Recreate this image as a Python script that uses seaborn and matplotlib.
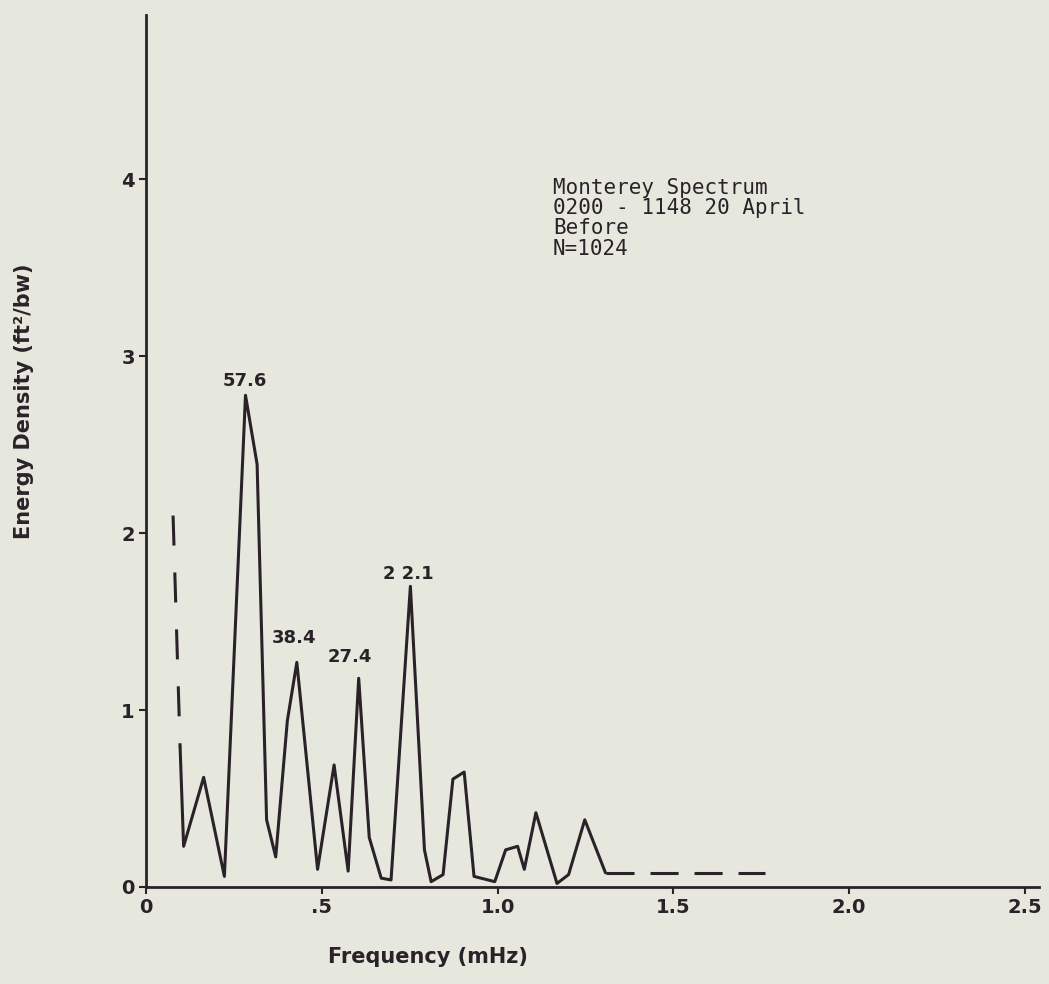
import matplotlib
matplotlib.use("Agg")
import matplotlib.pyplot as plt
import seaborn as sns
import pandas as pd

# ---- data ----
freq = [0.097, 0.107, 0.164, 0.223, 0.283, 0.316, 0.343, 0.369, 0.402, 0.429,
        0.488, 0.535, 0.575, 0.605, 0.635, 0.669, 0.697, 0.752, 0.792, 0.811,
        0.845, 0.873, 0.905, 0.933, 0.992, 1.023, 1.057, 1.076, 1.109, 1.169,
        1.202, 1.248, 1.307]
energy = [0.79, 0.23, 0.62, 0.06, 2.78, 2.39, 0.38, 0.17, 0.94, 1.27,
          0.10, 0.69, 0.09, 1.18, 0.28, 0.05, 0.04, 1.70, 0.21, 0.03,
          0.07, 0.61, 0.65, 0.06, 0.03, 0.21, 0.23, 0.10, 0.42, 0.02,
          0.07, 0.38, 0.08]
lead_freq = [0.077, 0.097]
lead_energy = [2.10, 0.79]
tail_freq = [1.307, 1.76]
tail_energy = [0.08, 0.08]

peak_labels = ["57.6", "38.4", "27.4", "2 2.1"]
peak_x = [0.281, 0.422, 0.58, 0.745]
peak_y = [2.83, 1.38, 1.27, 1.74]

xtick_vals = [0, 0.5, 1.0, 1.5, 2.0, 2.5]
xtick_labels = ["0", ".5", "1.0", "1.5", "2.0", "2.5"]
ytick_vals = [0, 1, 2, 3, 4]
ytick_labels = ["0", "1", "2", "3", "4"]

info_text = "Monterey Spectrum\n0200 - 1148 20 April\nBefore\nN=1024"

# ---- style ----
sns.set_theme(style="ticks")
bg = "#e6e8de"
ink = "#2a2228"
plt.rcParams["font.family"] = ["DejaVu Sans"]
plt.rcParams["lines.scale_dashes"] = False

fig = plt.figure(figsize=(10.49, 9.84), dpi=100, facecolor=bg)
ax = fig.add_axes([146 / 1049, 97 / 984, 893 / 1049, 872 / 984])
ax.set_facecolor(bg)

df = pd.DataFrame({"f": freq, "e": energy})
sns.lineplot(data=df, x="f", y="e", ax=ax, color=ink, lw=2.2,
             estimator=None, sort=False)
lead = pd.DataFrame({"f": lead_freq, "e": lead_energy})
sns.lineplot(data=lead, x="f", y="e", ax=ax, color=ink, lw=2.2,
             estimator=None, sort=False, dashes=False)
ax.lines[-1].set_dashes((21.6, 19.4))
tail = pd.DataFrame({"f": tail_freq, "e": tail_energy})
sns.lineplot(data=tail, x="f", y="e", ax=ax, color=ink, lw=2.2,
             estimator=None, sort=False, dashes=False)
ax.lines[-1].set_dashes((20.2, 11.5))

for lab, x, y in zip(peak_labels, peak_x, peak_y):
    ax.text(x, y, lab, ha="center", va="baseline", fontsize=13,
            fontweight="bold", color=ink)

ax.text(1.158, 4.01, info_text, ha="left", va="top", fontsize=15,
        family=["DejaVu Sans Mono"], color=ink, linespacing=1.02)

ax.set_xlim(0, 2.54)
ax.set_ylim(0, 4.93)
ax.set_xticks(xtick_vals)
ax.set_xticklabels(xtick_labels)
ax.set_yticks(ytick_vals)
ax.set_yticklabels(ytick_labels)

for s in ["top", "right"]:
    ax.spines[s].set_visible(False)
for s in ["left", "bottom"]:
    ax.spines[s].set_color(ink)
    ax.spines[s].set_linewidth(2.0)

ax.tick_params(axis="both", direction="out", length=5, width=1.5,
               colors=ink, labelsize=14, pad=3)
for t in ax.get_xticklabels() + ax.get_yticklabels():
    t.set_fontweight("bold")

ax.set_xlabel("Frequency (mHz)", fontsize=15, fontweight="bold", color=ink)
ax.xaxis.set_label_coords((428 - 146) / 893, (887 - 957) / 872)
ax.xaxis.label.set_verticalalignment("center")
ax.set_ylabel("Energy Density (ft²/bw)", fontsize=15, fontweight="bold",
              color=ink)
ax.yaxis.set_label_coords((24 - 146) / 893, (887 - 401) / 872)
ax.yaxis.label.set_verticalalignment("center")

fig.savefig("out.png", dpi=100, facecolor=bg)
